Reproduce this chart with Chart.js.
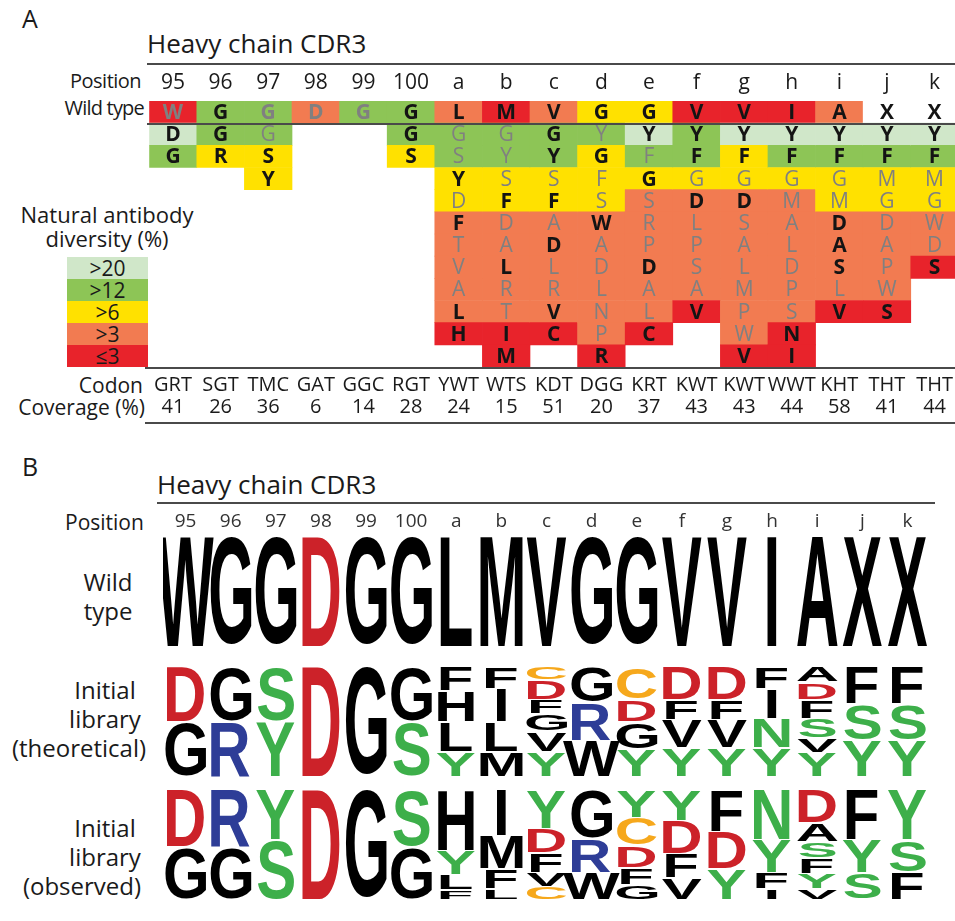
<!DOCTYPE html>
<html>
<head>
<meta charset="utf-8">
<script src="https://cdn.jsdelivr.net/npm/chart.js@4.4.1/dist/chart.umd.min.js"></script>
<style>
  html, body { margin: 0; padding: 0; background: #fff; overflow: hidden; width: 955px; height: 921px; }
  body { position: relative; font-family: "Open Sans", sans-serif; color: #1a1a1a; }
  .t { position: absolute; white-space: nowrap; line-height: 1; transform: translateY(-50%); }
  .c { transform: translate(-50%, -50%); text-align: center; }
  .r { transform: translate(-100%, -50%); }
  .hl { position: absolute; height: 2px; background: #4a4a4a; z-index: 2; }
  .lg { position: absolute; left: 67px; width: 81px; height: 22px; font-size: 21px; line-height: 22px; text-align: center; }
  canvas { position: absolute; }
</style>
</head>
<body>
<!-- panel A -->
<div class="t" style="left:22px; top:18px; font-size:25px;">A</div>
<div class="t" style="left:147px; top:43px; font-size:26px;">Heavy chain CDR3</div>
<div class="hl" style="left:147px; top:63px; width:808px;"></div>
<div class="t" style="left:70px; top:81px; font-size:20px; letter-spacing:-0.5px;">Position</div>
<div class="t r" style="left:144px; top:108px; font-size:20px; letter-spacing:-0.8px;">Wild type</div>
<div class="hl" style="left:147px; top:123px; width:808px;"></div>
<div class="t c" style="left:107px; top:214px; font-size:22px;">Natural antibody</div>
<div class="t c" style="left:107px; top:238px; font-size:22px;">diversity (%)</div>
<div id="legend"></div>
<div class="hl" style="left:145px; top:367px; width:810px;"></div>
<div class="t r" style="left:143px; top:385px; font-size:21px;">Codon</div>
<div class="t r" style="left:145px; top:407px; font-size:21px;">Coverage (%)</div>
<div class="hl" style="left:145px; top:422px; width:810px;"></div>
<canvas id="chartA" width="813" height="380" style="left:147px; top:60px;"></canvas>

<!-- panel B -->
<div class="t" style="left:22px; top:466px; font-size:25px;">B</div>
<div class="t" style="left:157px; top:484px; font-size:26px;">Heavy chain CDR3</div>
<div class="hl" style="left:157px; top:502px; width:778px;"></div>
<div class="t" style="left:65px; top:522px; font-size:21px;">Position</div>
<div class="t c" style="left:108px; top:582px; font-size:24px;">Wild</div>
<div class="t c" style="left:108px; top:611px; font-size:24px;">type</div>
<div class="t c" style="left:105px; top:690px; font-size:24px;">Initial</div>
<div class="t c" style="left:105px; top:719px; font-size:24px;">library</div>
<div class="t c" style="left:79px; top:748px; font-size:24px;">(theoretical)</div>
<div class="t c" style="left:105px; top:828px; font-size:24px;">Initial</div>
<div class="t c" style="left:105px; top:857px; font-size:24px;">library</div>
<div class="t c" style="left:82px; top:886px; font-size:24px;">(observed)</div>
<canvas id="chartB" width="767" height="421" style="left:163px; top:500px;"></canvas>

<script>
// CDR3 positions and library design
const positions = ['95', '96', '97', '98', '99', '100', 'a', 'b', 'c', 'd', 'e', 'f', 'g', 'h', 'i', 'j', 'k'];
const codons = ['GRT', 'SGT', 'TMC', 'GAT', 'GGC', 'RGT', 'YWT', 'WTS', 'KDT', 'DGG', 'KRT', 'KWT', 'KWT', 'WWT', 'KHT', 'THT', 'THT'];
const coverage = [41, 26, 36, 6, 14, 28, 24, 15, 51, 20, 37, 43, 43, 44, 58, 41, 44];

const wildType = ['W', 'G', 'G', 'D', 'G', 'G', 'L', 'M', 'V', 'G', 'G', 'V', 'V', 'I', 'A', 'X', 'X'];
// diversity class: 1 >20, 2 >12, 3 >6, 4 >3, 5 <=3, 0 none
const wildTypeDiversity = [5, 2, 2, 4, 2, 2, 4, 5, 4, 3, 3, 5, 5, 5, 4, 0, 0];
const wildTypeEncoded = [0, 1, 0, 0, 0, 1, 1, 1, 1, 1, 1, 1, 1, 1, 1, 1, 1];

// natural residues per position, top to bottom
const libLetters = ['DG', 'GR', 'GSY', '', '', 'GS', 'GSYDFTVALH', 'GYSFDALRTIM', 'GYSFADLRVC', 'YGFSWADLNPR',
  'YFGSRPDALC', 'YFGDLPSAV', 'YFGDSALMPWV', 'YFGMALDPSNI', 'YFGMDASLV', 'YFMGDAPWS', 'YFMGWDS'];
const libDiversity = ['12', '23', '233', '', '', '23', '2233444445', '22334444455', '2233444445', '23334444445',
  '1234444445', '223444445', '13344444445', '12344444455', '123344445', '123344445', '1233445'];
const libEncoded = ['11', '11', '011', '', '', '11', '0010100011', '00010010011', '1101010011', '01001000001',
  '1010001001', '110100001', '11010000001', '11000000011', '110011101', '110000001', '1100001'];

const legendLabels = ['>20', '>12', '>6', '>3', '≤3'];

// sequence logos, letters top to bottom with relative heights
const theoLetters = ['DG', 'GR', 'SY', 'D', 'G', 'GS', 'FHLY', 'FILM', 'CDFGVY', 'GRW', 'CDGY', 'DFVY', 'DFVY',
  'FINY', 'ADFSVY', 'FSY', 'FSY'];
const theoWeights = [[.5, .5], [.5, .5], [.5, .5], [1], [1], [.5, .5], [.22, .28, .27, .23], [.2, .3, .27, .23],
  [.12, .18, .13, .16, .18, .23], [.33, .34, .33], [.3, .2, .25, .25], [.3, .18, .26, .26], [.3, .18, .26, .26],
  [.2, .27, .27, .26], [.14, .16, .17, .18, .13, .22], [.34, .33, .33], [.34, .33, .33]];
const obsLetters = ['DG', 'RG', 'YS', 'D', 'G', 'SG', 'HYLF', 'IMFL', 'YDFVC', 'GRW', 'YCDFG', 'YDFV', 'FDY',
  'NYFI', 'DASFYV', 'FYS', 'YSF'];
const obsWeights = [[.52, .48], [.52, .48], [.45, .55], [1], [1], [.52, .48], [.55, .22, .14, .09], [.42, .3, .18, .1],
  [.35, .22, .18, .13, .12], [.45, .3, .25], [.25, .26, .2, .15, .14], [.28, .3, .22, .2], [.38, .34, .28],
  [.45, .3, .15, .1], [.3, .17, .15, .14, .14, .1], [.45, .3, .25], [.45, .3, .25]];

const diversityColors = ['#ffffff', '#d0e7c9', '#8dc556', '#ffe100', '#f27b51', '#e8232b'];
const logoColors = { D: '#cc2229', R: '#2e3d97', S: '#3daf4a', Y: '#3daf4a', N: '#3daf4a', C: '#f6a81c' };

// legend boxes
const legendEl = document.getElementById('legend');
legendLabels.forEach((lab, i) => {
  const d = document.createElement('div');
  d.className = 'lg';
  d.style.top = (257 + i * 22) + 'px';
  d.style.background = diversityColors[i + 1];
  d.textContent = lab;
  legendEl.appendChild(d);
});

// ---- panel A cells
const cells = [];
positions.forEach((p, i) => {
  cells.push({ x: p, y: [0, 1], letter: wildType[i], div: wildTypeDiversity[i], enc: wildTypeEncoded[i], wt: true });
  for (let r = 0; r < libLetters[i].length; r++) {
    cells.push({ x: p, y: [r + 1, r + 2], letter: libLetters[i][r], div: +libDiversity[i][r], enc: +libEncoded[i][r] });
  }
});

const cellLetters = {
  id: 'cellLetters',
  afterDatasetsDraw(chart) {
    const ctx = chart.ctx;
    const meta = chart.getDatasetMeta(0);
    const data = chart.data.datasets[0].data;
    ctx.save();
    ctx.textAlign = 'center';
    ctx.textBaseline = 'middle';
    meta.data.forEach((bar, i) => {
      const d = data[i];
      const bold = d.wt || d.enc;
      ctx.font = (bold ? 'bold ' : '') + '21px "Open Sans"';
      ctx.fillStyle = d.enc ? '#141414' : '#808080';
      ctx.fillText(d.letter, bar.x, (bar.y + bar.base) / 2 + 1);
    });
    ctx.restore();
  }
};

new Chart(document.getElementById('chartA'), {
  type: 'bar',
  data: {
    labels: positions,
    datasets: [{
      data: cells,
      backgroundColor: c => diversityColors[c.raw ? c.raw.div : 0],
      borderWidth: 0,
      barPercentage: 1,
      categoryPercentage: 1
    }]
  },
  options: {
    responsive: false,
    animation: false,
    layout: { padding: 0 },
    plugins: { legend: { display: false }, tooltip: { enabled: false } },
    scales: {
      x: {
        position: 'bottom',
        offset: true,
        grid: { display: false, drawTicks: false },
        border: { display: false },
        ticks: {
          autoSkip: false, maxRotation: 0, padding: 7, color: '#1a1a1a',
          font: { family: 'Open Sans', size: 20, lineHeight: 1.1 },
          callback: (v, i) => [codons[i], String(coverage[i])]
        },
        afterFit: s => { s.height = 73; }
      },
      xTop: {
        type: 'category',
        position: 'top',
        labels: positions,
        offset: true,
        grid: { display: false, drawTicks: false },
        border: { display: false },
        ticks: { autoSkip: false, maxRotation: 0, padding: 5, color: '#1a1a1a', font: { family: 'Open Sans', size: 21 } },
        afterFit: s => { s.height = 41; }
      },
      y: { type: 'linear', reverse: true, min: 0, max: 12, display: false }
    }
  },
  plugins: [cellLetters]
});

// ---- panel B logos
const rowStart = [0, 1.18, 2.3];
const boxes = [];
function pushStack(p, letters, weights, start) {
  const total = weights.reduce((a, b) => a + b, 0);
  let acc = start;
  letters.split('').forEach((L, k) => {
    const h = weights[k] / total;
    boxes.push({ x: p, y: [acc, acc + h], letter: L });
    acc += h;
  });
}
positions.forEach((p, i) => {
  pushStack(p, wildType[i], [1], rowStart[0]);
  pushStack(p, theoLetters[i], theoWeights[i], rowStart[1]);
  pushStack(p, obsLetters[i], obsWeights[i], rowStart[2]);
});

const logoLetters = {
  id: 'logoLetters',
  afterDatasetsDraw(chart) {
    const ctx = chart.ctx;
    const meta = chart.getDatasetMeta(0);
    const data = chart.data.datasets[0].data;
    ctx.save();
    ctx.font = 'bold 60px "Liberation Sans"';
    ctx.textAlign = 'left';
    ctx.textBaseline = 'alphabetic';
    meta.data.forEach((bar, i) => {
      const d = data[i];
      const top = Math.min(bar.y, bar.base) + 1;
      const bottom = Math.max(bar.y, bar.base) - 1;
      const m = ctx.measureText(d.letter);
      const gh = m.actualBoundingBoxAscent + m.actualBoundingBoxDescent;
      const sy = Math.max(bottom - top, 0.5) / gh;
      ctx.save();
      ctx.translate(bar.x - (m.actualBoundingBoxRight - m.actualBoundingBoxLeft) / 2, top);
      ctx.scale(1, sy);
      ctx.fillStyle = logoColors[d.letter] || '#000';
      ctx.fillText(d.letter, 0, m.actualBoundingBoxAscent);
      ctx.restore();
    });
    ctx.restore();
  }
};

new Chart(document.getElementById('chartB'), {
  type: 'bar',
  data: {
    labels: positions,
    datasets: [{
      data: boxes,
      backgroundColor: 'rgba(0,0,0,0)',
      borderWidth: 0,
      barPercentage: 1,
      categoryPercentage: 1
    }]
  },
  options: {
    responsive: false,
    animation: false,
    layout: { padding: { bottom: 21 } },
    plugins: { legend: { display: false }, tooltip: { enabled: false } },
    scales: {
      x: {
        position: 'top',
        offset: true,
        grid: { display: false, drawTicks: false },
        border: { display: false },
        ticks: { autoSkip: false, maxRotation: 0, padding: 4, color: '#333', font: { family: 'Open Sans', size: 19 } },
        afterFit: s => { s.height = 37; }
      },
      y: { type: 'linear', reverse: true, min: 0, max: 3.3, display: false }
    }
  },
  plugins: [logoLetters]
});
</script>
</body>
</html>
